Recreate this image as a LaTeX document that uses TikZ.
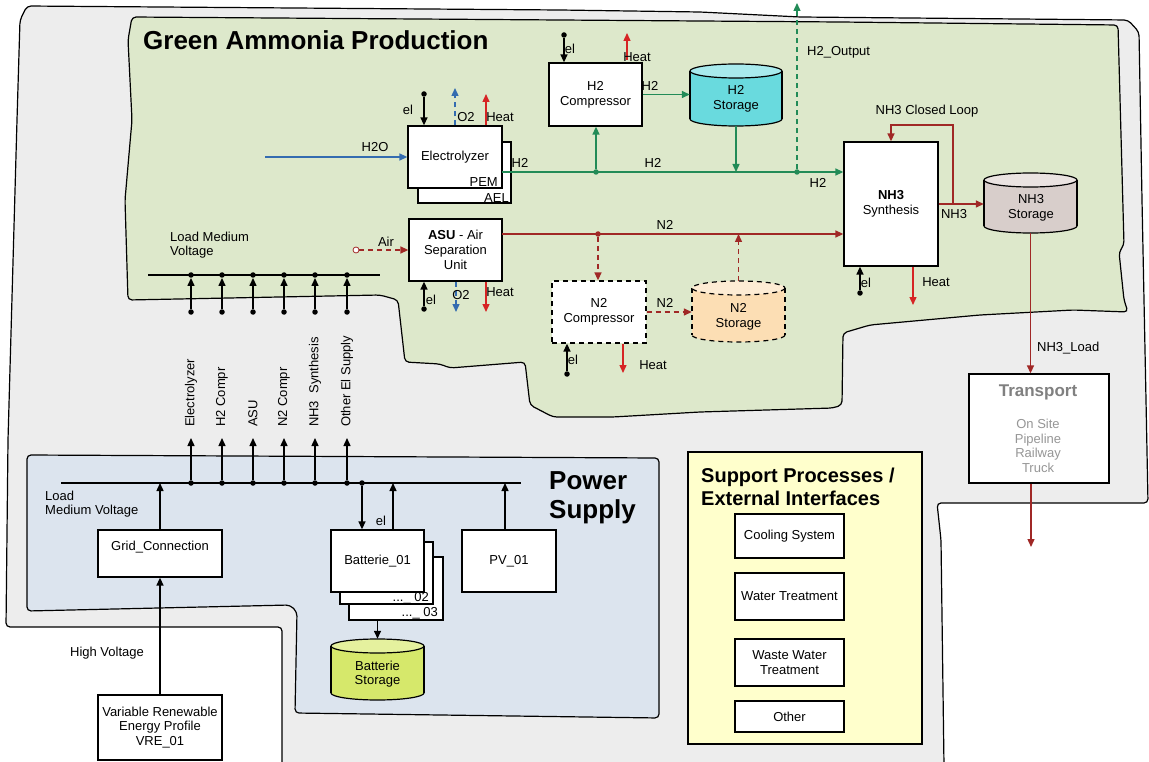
\documentclass[tikz,border=0pt]{standalone}
\usepackage{fontspec}
\setmainfont{Liberation Sans}
\usetikzlibrary{arrows.meta}

\definecolor{gfill}{RGB}{221,232,203}
\definecolor{ofill}{RGB}{237,237,237}
\definecolor{pfill}{RGB}{220,228,238}
\definecolor{sfill}{RGB}{255,255,204}
\definecolor{hgreen}{RGB}{34,139,87}
\definecolor{nred}{RGB}{160,40,38}
\definecolor{hred}{RGB}{214,36,36}
\definecolor{oblue}{RGB}{52,108,176}
\definecolor{tgrey}{RGB}{128,128,128}
\definecolor{tgreyl}{RGB}{150,150,150}
\definecolor{h2body}{RGB}{105,218,222}
\definecolor{h2top}{RGB}{168,234,237}
\definecolor{nhbody}{RGB}{216,206,203}
\definecolor{nhtop}{RGB}{234,227,225}
\definecolor{n2body}{RGB}{252,222,180}
\definecolor{n2top}{RGB}{253,236,212}
\definecolor{batbody}{RGB}{214,232,107}
\definecolor{battop}{RGB}{229,241,158}

% storage tank: [style] name, centre x, centre y, width, height, body colour, lid colour
\newcommand{\storagetank}[8][]{%
  \node[inner sep=0pt, minimum width=#5pt, minimum height=#6pt] (#2) at (#3,#4) {};
  \path[draw, fill=#7, line width=1.2pt, #1] (#3,{#4+#6/2-7}) ellipse [x radius={#5/2}, y radius=7];
  \fill[#7] ({#3-#5/2},{#4-#6/2+7}) rectangle ({#3+#5/2},{#4+#6/2-7});
  \draw[line width=1.2pt, #1] ({#3-#5/2},{#4-#6/2+7}) -- ({#3-#5/2},{#4+#6/2-7})
        ({#3+#5/2},{#4-#6/2+7}) -- ({#3+#5/2},{#4+#6/2-7});
  \path[draw, fill=#8, line width=1.2pt, #1] (#3,{#4-#6/2+7}) ellipse [x radius={#5/2}, y radius=7];
}

\begin{document}
\begin{tikzpicture}[x=1pt,y=-1pt,
  font=\fontsize{13}{14.7}\selectfont,
  txt/.style={inner sep=0pt, align=center},
  box/.style={draw, line width=1.3pt, fill=white, inner sep=0pt, align=center},
  region/.style={draw, line width=1.2pt, rounded corners=4pt},
  jdot/.style={circle, fill=#1, inner sep=0pt, minimum size=5.5pt},
  jdot/.default=black,
  flow/.style={line width=1.4pt, -{Triangle[length=8pt,width=7pt]}},
  h2flow/.style={flow, draw=hgreen},
  n2flow/.style={flow, draw=nred},
  heatflow/.style={flow, draw=hred},
  o2flow/.style={flow, draw=oblue, dash pattern=on 5pt off 4pt},
  elflow/.style={flow, draw=black},
  optional/.style={dash pattern=on 5pt off 4pt},
  busline/.style={line width=1.4pt},
]
\useasboundingbox (0,0) rectangle (1149,762);

% ---------- background areas ----------
\draw[region, fill=ofill] (27,6) -- (560,10) -- (700,12) -- (800,17) -- (1128,20) -- (1139,32)
  -- (1142,200) -- (1146,400) -- (1148,503) -- (937,503) -- (941,540) -- (944,766)
  -- (282,766) -- (282,627) -- (6,627) -- (8,440) -- (17,120) -- (20,20) -- cycle;

\draw[region, fill=gfill] (132,17) -- (560,20) -- (840,22) -- (1118,25) -- (1124,245)
  -- (1119,252) -- (1124,300) -- (1128,312) -- (1073,310) -- (980,315) -- (870,325)
  -- (843,333) -- (842,405) -- (833,408) -- (700,412) -- (613,417) -- (553,417)
  -- (530,405) -- (525,362) -- (450,368) -- (440,364) -- (405,362) -- (398,300)
  -- (380,295) -- (128,300) -- (125,200) -- (132,120) -- (128,40) -- cycle;

\draw[region, fill=pfill] (27,455) -- (659,458) -- (659,718) -- (295,713) -- (297,612)
  -- (290,605) -- (27,611) -- cycle;

\node[draw, line width=1.2pt, fill=sfill, inner sep=0pt, minimum width=234pt, minimum height=292pt] (supp) at (805,598) {};

% ---------- titles ----------
\node[txt, anchor=west, font=\fontsize{26}{30}\selectfont\bfseries] (title) at (143,40) {Green Ammonia Production};
\node[txt, anchor=west, align=left, font=\fontsize{26}{29}\selectfont\bfseries] (pstitle) at (549,497.5) {Power\\Supply};
\node[txt, anchor=west, align=left, font=\fontsize{20}{23}\selectfont\bfseries] (supptitle) at (701,486.5) {Support Processes /\\External Interfaces};

% ---------- process units ----------
\node[box, minimum width=93pt, minimum height=61pt] (elecB) at (464.5,172.5) {};
\node[box, minimum width=94pt, minimum height=62pt] (elecF) at (455,157) {Electrolyzer};
\node[txt, anchor=east] (pem) at (498,182) {PEM};
\node[txt, anchor=east] (ael) at (509,198) {AEL};

\node[box, minimum width=93pt, minimum height=63pt] (h2c) at (595.5,94.5) {H2\\Compressor};
\node[box, minimum width=94pt, minimum height=124pt] (nh3) at (891,204) {\textbf{NH3}\\Synthesis};
\node[box, minimum width=93pt, minimum height=62pt] (asu) at (455.5,250) {\textbf{ASU} - Air\\Separation\\Unit};
\node[box, optional, minimum width=94pt, minimum height=62pt] (n2c) at (599,312) {N2\\Compressor};

\storagetank{h2s}{736}{95}{92}{62}{h2body}{h2top}
\node[txt] (h2sl) at (736,99) {H2\\Storage};
\storagetank{nh3s}{1030.5}{203}{93}{60}{nhbody}{nhtop}
\node[txt] (nh3sl) at (1031,208) {NH3\\Storage};
\storagetank[optional]{n2s}{738.5}{311.5}{93}{61}{n2body}{n2top}
\node[txt] (n2sl) at (738.5,316.5) {N2\\Storage};

\node[box, minimum width=140pt, minimum height=109pt] (trans) at (1039,428.5) {};
\node[txt, font=\fontsize{17}{20}\selectfont\bfseries, text=tgrey] (transt) at (1038,392) {Transport};
\node[txt, text=tgreyl] (transl) at (1038,446) {On Site\\Pipeline\\Railway\\Truck};

% ---------- electrolyzer streams ----------
\coordinate (h2oin) at (265,157);
\draw[flow, draw=oblue] (h2oin) -- (elecF.west);
\node[txt] (h2ol) at (375,147) {H2O};

\node[jdot] (elecdot) at (424,94) {};
\draw[elflow] (elecdot) -- (elecdot |- elecF.north);
\node[txt] (elecel) at (408,110) {el};
\coordinate (eleco2) at (455,88);
\draw[o2flow] (elecF.north) -- (eleco2);
\node[txt] (eleco2l) at (466,117) {O2};
\coordinate (elecheat) at (486,94);
\draw[heatflow] (elecheat |- elecF.north) -- (elecheat);
\node[txt] (elecheatl) at (500,117) {Heat};

% ---------- hydrogen path ----------
\coordinate (h2start) at (502,172);
\node[jdot=hgreen] (h2j1) at (596,172) {};
\node[jdot=hgreen] (h2j2) at (797,172) {};
\draw[h2flow] (h2start) -- (nh3.west |- h2start);
\draw[h2flow] (h2j1) -- (h2j1 |- h2c.south);
\draw[h2flow] (h2c.east) -- (h2c.east -| h2s.west);
\draw[h2flow] (h2s.south) -- (h2s.south |- h2start);
\coordinate (h2out) at (797,3);
\draw[h2flow, optional] (h2j2) -- (h2out);
\node[txt] (h2l1) at (520,163) {H2};
\node[txt] (h2l2) at (653,163) {H2};
\node[txt] (h2l3) at (650,86) {H2};
\node[txt] (h2l4) at (818,183) {H2};
\node[txt, anchor=west] (h2outl) at (807,52) {H2\_Output};

\node[jdot] (h2cdot) at (564,35) {};
\draw[elflow] (h2cdot) -- (h2cdot |- h2c.north);
\node[txt] (h2cel) at (570,49) {el};
\coordinate (h2cheatb) at (627,60);
\coordinate (h2cheat) at (627,33);
\draw[heatflow] (h2cheatb) -- (h2cheat);
\node[txt] (h2cheatl) at (637,57) {Heat};

% ---------- nitrogen path ----------
\coordinate (n2start) at (502,234);
\node[jdot=nred] (n2j) at (598,234) {};
\draw[n2flow] (n2start) -- (nh3.west |- n2start);
\node[txt] (n2l1) at (665,225) {N2};
\draw[n2flow, optional] (n2j) -- (n2j |- n2c.north);
\draw[n2flow, optional] (n2c.east) -- (n2c.east -| n2s.west);
\node[txt] (n2l2) at (665,303) {N2};
\draw[n2flow, optional] (n2s.north) -- (n2s.north |- n2start);

\node[circle, draw=nred, fill=white, line width=0.8pt, inner sep=0pt, minimum size=6pt] (airsrc) at (356,250) {};
\draw[n2flow, optional] (airsrc) -- (asu.west);
\node[txt] (airl) at (386,242) {Air};

\node[jdot] (asudot) at (424,309) {};
\draw[elflow] (asudot) -- (asudot |- asu.south);
\node[txt] (asuel) at (431,300) {el};
\coordinate (asuo2) at (456,312);
\draw[o2flow] (asuo2 |- asu.south) -- (asuo2);
\node[txt] (asuo2l) at (461,295) {O2};
\coordinate (asuheat) at (486,312);
\draw[heatflow] (asuheat |- asu.south) -- (asuheat);
\node[txt] (asuheatl) at (500,292) {Heat};

\node[jdot] (n2cdot) at (567,374) {};
\draw[elflow] (n2cdot) -- (n2cdot |- n2c.south);
\node[txt] (n2cel) at (573,360) {el};
\coordinate (n2cheat) at (623,373);
\draw[heatflow] (n2cheat |- n2c.south) -- (n2cheat);
\node[txt] (n2cheatl) at (653,365) {Heat};

% ---------- ammonia path ----------
\draw[n2flow] (nh3.east) -- (nh3.east -| nh3s.west);
\node[txt] (nh3l) at (954,214) {NH3};
\coordinate (loopa) at (953,204);
\coordinate (looptop) at (953,125);
\draw[n2flow] (loopa) -- (looptop) -| (nh3.north);
\node[txt] (loopl) at (927,111) {NH3 Closed Loop};

\node[jdot] (nh3dot) at (860,293) {};
\draw[elflow] (nh3dot) -- (nh3dot |- nh3.south);
\node[txt] (nh3el) at (866,283) {el};
\coordinate (nh3heat) at (913,305);
\draw[heatflow] (nh3heat |- nh3.south) -- (nh3heat);
\node[txt] (nh3heatl) at (936,282) {Heat};

\draw[n2flow] (nh3s.south) -- (nh3s.south |- trans.north);
\node[txt, anchor=west] (loadl) at (1037,348) {NH3\_Load};
\coordinate (transout) at (1031,547);
\draw[n2flow] (transout |- trans.south) -- (transout);

% ---------- electrical load buses ----------
\coordinate (busa1) at (148,275);
\coordinate (busa2) at (380,275);
\draw[busline] (busa1) -- (busa2);
\node[txt, anchor=west, align=left] (lmvtop) at (170,245) {Load Medium\\Voltage};

\coordinate (busb1) at (61,483);
\coordinate (busb2) at (521,483);
\draw[busline] (busb1) -- (busb2);
\node[txt, anchor=west, align=left] (lmvbot) at (45,504) {Load\\Medium Voltage};

\foreach \x/\n/\t in {191/e/Electrolyzer, 222/h/H2 Compr, 253/a/ASU, 284/n/N2 Compr, 315/s/NH3\ \ Synthesis, 347/o/Other El Supply} {
  \node[jdot] (tb\n) at (\x,275) {};
  \node[jdot] (tl\n) at (\x,312) {};
  \draw[elflow] (tl\n) -- (tb\n.south);
  \node[jdot] (lb\n) at (\x,483) {};
  \coordinate (lt\n) at (\x,438);
  \draw[elflow] (lb\n) -- (lt\n);
  \node[txt, rotate=90, anchor=west] (vl\n) at (\x,427) {\t};
}

% ---------- power supply units ----------
\node[box, minimum width=124pt, minimum height=47pt] (grid) at (160,553.5) {};
\node[txt] (gridl) at (160,547) {Grid\_Connection};
\node[box, minimum width=124pt, minimum height=65pt] (vre) at (160,727.5) {Variable Renewable\\Energy Profile\\VRE\_01};
\draw[elflow] (grid.north) -- (grid.north |- busb1);
\draw[elflow] (vre.north) -- (grid.south);
\node[txt] (hvl) at (107,653) {High Voltage};

\node[box, minimum width=94pt, minimum height=63pt] (bat3) at (396,588.5) {};
\node[box, minimum width=93pt, minimum height=62pt] (bat2) at (386.5,573) {};
\node[box, minimum width=93pt, minimum height=62pt] (bat1) at (377.5,561) {Batterie\_01};
\node[txt, anchor=east] (bat2l) at (429,598) {...\_ 02};
\node[txt, anchor=east] (bat3l) at (438,613) {...\_ 03};

\node[jdot] (batdot) at (362,483) {};
\draw[elflow] (batdot) -- (batdot |- bat1.north);
\coordinate (batupx) at (393,0);
\draw[elflow] (bat1.north -| batupx) -- (busb1 -| batupx);
\node[txt] (batel) at (381,521) {el};

\storagetank{batst}{377.5}{669.5}{93}{61}{batbody}{battop}
\node[txt] (batstl) at (377.5,674) {Batterie\\Storage};
\draw[elflow] (bat3.south -| batst.north) -- (batst.north);

\node[box, minimum width=94pt, minimum height=62pt] (pv) at (509,561) {PV\_01};
\coordinate (pvx) at (505,0);
\draw[elflow] (pv.north -| pvx) -- (busb1 -| pvx);

% ---------- support processes ----------
\node[box, minimum width=109pt, minimum height=44pt] (cool) at (789.5,536) {Cooling System};
\node[box, minimum width=109pt, minimum height=47pt] (water) at (789.5,596.5) {Water Treatment};
\node[box, minimum width=109pt, minimum height=47pt] (waste) at (789.5,662.5) {Waste Water\\Treatment};
\node[box, minimum width=109pt, minimum height=31pt] (other) at (789.5,716.5) {Other};

\end{tikzpicture}
\end{document}
